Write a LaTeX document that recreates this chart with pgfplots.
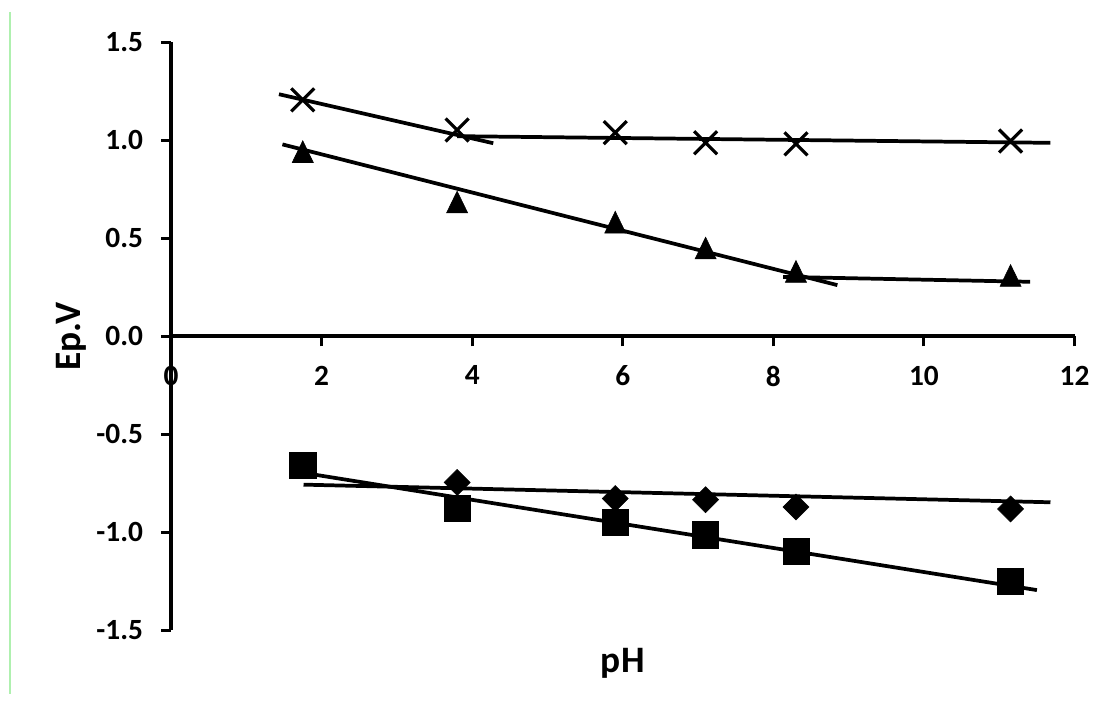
\documentclass[border=0pt]{standalone}
\usepackage{fontspec}
\setmainfont{Carlito}
\usepackage{pgfplots}
\pgfplotsset{compat=1.18}
\definecolor{greenline}{RGB}{175,240,175}
\begin{document}
\begin{tikzpicture}
\begin{axis}[
  x=56.475pt, y=147pt,
  xmin=0, xmax=12, ymin=-1.5, ymax=1.5,
  enlargelimits=false, clip=false,
  axis x line=middle, axis y line=left,
  hide obscured x ticks=false, hide obscured y ticks=false,
  axis line style={line width=3pt, -, black},
  xtick={0,2,4,6,8,10,12}, xticklabels={0,2,4,6,8,10,12},
  ytick={-1.5,-1,-0.5,0,0.5,1,1.5}, yticklabels={-1.5,-1.0,-0.5,0.0,0.5,1.0,1.5},
  major tick length=7.5pt,
  tick style={line width=2.25pt, black},
  tick align=outside,
  ticklabel style={font=\fontsize{22}{26}\selectfont\bfseries},
  xticklabel style={yshift=-11pt},
  yticklabel shift=10pt,
]
% trend lines
\addplot[no marks, line width=2.8pt] coordinates {(1.434,1.236) (4.28,0.986)};
\addplot[no marks, line width=2.8pt] coordinates {(3.80,1.022) (11.68,0.988)};
\addplot[no marks, line width=2.8pt] coordinates {(1.48,0.980) (8.85,0.262)};
\addplot[no marks, line width=2.8pt] coordinates {(8.13,0.304) (11.41,0.279)};
\addplot[no marks, line width=2.8pt] coordinates {(1.76,-0.756) (11.68,-0.846)};
\addplot[no marks, line width=2.8pt] coordinates {(1.76,-0.696) (11.50,-1.294)};
% markers
\addplot[only marks, mark=x, mark size=12.2pt, mark options={line width=2.4pt, black}] coordinates {
(1.75,1.207) (3.8,1.053) (5.9,1.040) (7.1,0.988) (8.3,0.983) (11.15,0.997)};
\addplot[only marks, mark=triangle*, mark size=9.15pt, mark options={black, fill=black, line width=0.4pt, yshift=-2.7pt, yscale=1.19}] coordinates {
(1.75,0.943) (3.8,0.686) (5.9,0.583) (7.1,0.451) (8.3,0.332) (11.15,0.311)};
\addplot[only marks, mark=square*, mark size=6.9pt, mark options={black, fill=black, line width=0.4pt, rotate=45}] coordinates {
(3.8,-0.745) (5.9,-0.827) (7.1,-0.833) (8.3,-0.870) (11.15,-0.880)};
\addplot[only marks, mark=square*, mark size=9.8pt, mark options={black, fill=black, line width=0.4pt}] coordinates {
(1.75,-0.655) (3.8,-0.875) (5.9,-0.949) (7.1,-1.012) (8.3,-1.097) (11.15,-1.251)};
\node[anchor=base, font=\fontsize{28}{33}\selectfont\bfseries] at (axis cs:6,-1.717) {pH};
\node[anchor=base, rotate=90, font=\fontsize{28}{33}\selectfont\bfseries] at (axis cs:-1.2085,0) {Ep.V};
\draw[greenline, line width=0.9pt] (axis cs:-2.138,1.6556) -- (axis cs:-2.138,-1.824);
\coordinate (bl) at (axis cs:-2.271,-1.8903);
\coordinate (tr) at (axis cs:12.444,1.7168);
\end{axis}
\pgfresetboundingbox
\path[use as bounding box] (bl) rectangle (tr);
\end{tikzpicture}
\end{document}
